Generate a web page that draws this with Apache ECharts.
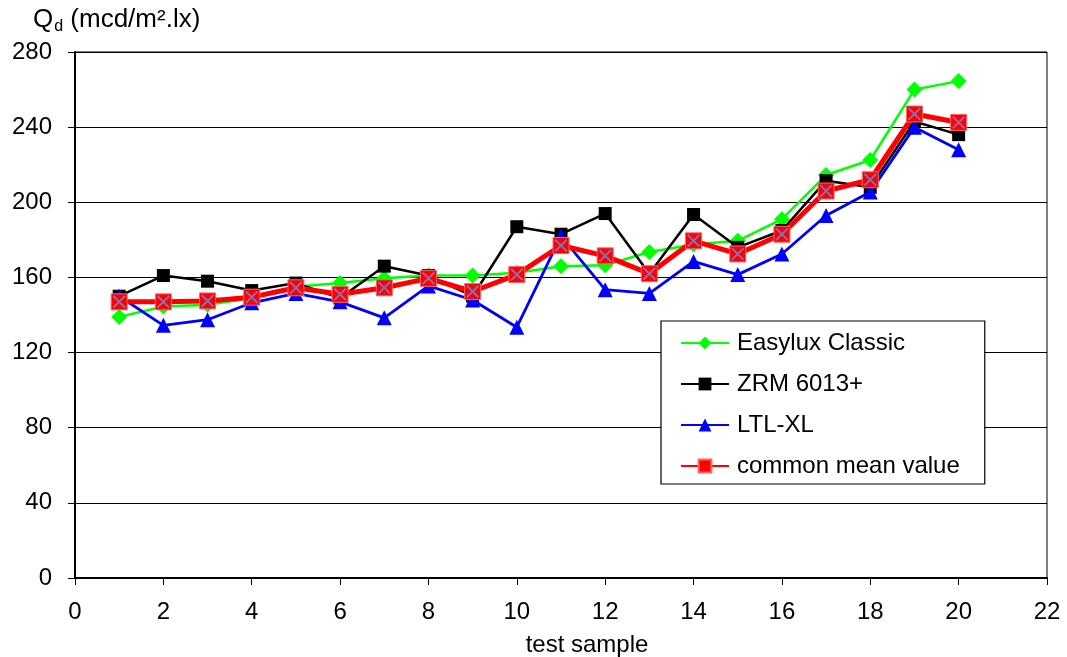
<!DOCTYPE html>
<html>
<head>
<meta charset="utf-8">
<script src="https://cdn.jsdelivr.net/npm/echarts@6/dist/echarts.min.js"></script>
<style>
html,body{margin:0;padding:0;background:#fff;}
#chart{width:1067px;height:657px;}
</style>
</head>
<body>
<div id="chart"></div>
<script>
// ---- data ----
const samples = [1,2,3,4,5,6,7,8,9,10,11,12,13,14,15,16,17,18,19,20];
const easylux = [139,144.5,145.5,149,155,157,159.5,161,161,162.5,166,166.5,173.5,177.5,179.5,191,214.5,222.5,260,264.5];
const zrm     = [150,161,158,153,157,149,166,161,150,187,183,194,162,193.5,176,185,211.5,208,243,236];
const ltl     = [150,134.5,137.5,146.5,151.5,147,138.5,155.5,148,133.5,182,153.5,151.5,168.5,161.5,172.5,193,205.5,240,228];
const meanVal = [147,147,147.5,149.5,154.5,151,154.5,159.5,152.5,161.5,177,171.5,162,179.5,172.5,183,206,212,247,242.5];
const yTicks  = [0,40,80,120,160,200,240,280];
const xTicks  = [0,2,4,6,8,10,12,14,16,18,20,22];
const seriesNames = ['Easylux Classic','ZRM 6013+','LTL-XL','common mean value'];

const pair = arr => samples.map((s,i)=>[s,arr[i]]);
const FONT = "'Liberation Sans', Arial, sans-serif";
const X_PATH = 'path://M0,1 L1,0 L5,4 L9,0 L10,1 L6,5 L10,9 L9,10 L5,6 L1,10 L0,9 L4,5 Z';

const chart = echarts.init(document.getElementById('chart'), null, {renderer:'canvas'});
chart.setOption({
  animation:false,
  backgroundColor:'#fff',
  textStyle:{fontFamily:FONT},
  title:{
    text:'{q|Q}{sub|d}{q| (mcd/m².lx)}',
    left:28, top:0,
    textStyle:{
      fontWeight:'normal',
      rich:{
        q:{fontFamily:FONT,fontSize:26,lineHeight:30,color:'#000',fontWeight:'normal',verticalAlign:'middle'},
        sub:{fontFamily:FONT,fontSize:16,lineHeight:16,color:'#000',fontWeight:'normal',verticalAlign:'bottom',padding:[0,0,0,1]}
      }
    }
  },
  grid:{left:75,right:20,top:52,bottom:79,outerBoundsMode:'none',containLabel:false,
        show:true,borderColor:'#000',borderWidth:1,backgroundColor:'transparent'},
  legend:{
    orient:'vertical',
    left:661, top:321,
    data:seriesNames,
    backgroundColor:'#fff',
    borderColor:'#000', borderWidth:1.2,
    padding:[10,25,6,19],
    itemWidth:48, itemHeight:16, itemGap:17,
    textStyle:{fontFamily:FONT,fontSize:24,color:'#000',padding:[0,0,0,3]}
  },
  xAxis:{
    type:'value', min:0, max:22, interval:2,
    name:'test sample', nameLocation:'middle', nameGap:55,
    nameTextStyle:{fontFamily:FONT,fontSize:24,color:'#000',padding:[0,0,0,52]},
    axisLine:{show:true,lineStyle:{color:'#000',width:2}},
    axisTick:{show:true,inside:false,length:7,lineStyle:{color:'#000',width:1}},
    axisLabel:{fontFamily:FONT,fontSize:24,color:'#000',margin:22,
      formatter:v=>xTicks.includes(v)?String(v):''},
    splitLine:{show:false}
  },
  yAxis:{
    type:'value', min:0, max:280, interval:40,
    axisLine:{show:true,lineStyle:{color:'#000',width:2}},
    axisTick:{show:true,inside:false,length:7,lineStyle:{color:'#000',width:1}},
    axisLabel:{fontFamily:FONT,fontSize:24,color:'#000',margin:23,
      formatter:v=>yTicks.includes(v)?String(v):''},
    splitLine:{show:true,lineStyle:{color:'#000',width:1}}
  },
  series:[
    {name:seriesNames[0],type:'line',data:pair(easylux),symbol:'diamond',symbolSize:16,
     itemStyle:{color:'#00ff00'},lineStyle:{color:'#00ff00',width:2.5},z:2},
    {name:seriesNames[1],type:'line',data:pair(zrm),symbol:'rect',symbolSize:13,
     itemStyle:{color:'#000'},lineStyle:{color:'#000',width:2.5},z:3},
    {name:seriesNames[2],type:'line',data:pair(ltl),symbol:'triangle',symbolSize:15,
     itemStyle:{color:'#0000ff'},lineStyle:{color:'#0000ff',width:2.8},z:4},
    {name:seriesNames[3],type:'line',data:pair(meanVal),symbol:'rect',symbolSize:16,
     itemStyle:{color:'#ff0000',borderColor:'#ff6666',borderWidth:1},lineStyle:{color:'#ff0000',width:5},z:5},
    {name:'meanX',type:'line',data:pair(meanVal),symbol:X_PATH,symbolSize:13,
     itemStyle:{color:'#7878c0'},lineStyle:{width:0,opacity:0},z:6,silent:true}
  ]
});
</script>
</body>
</html>
